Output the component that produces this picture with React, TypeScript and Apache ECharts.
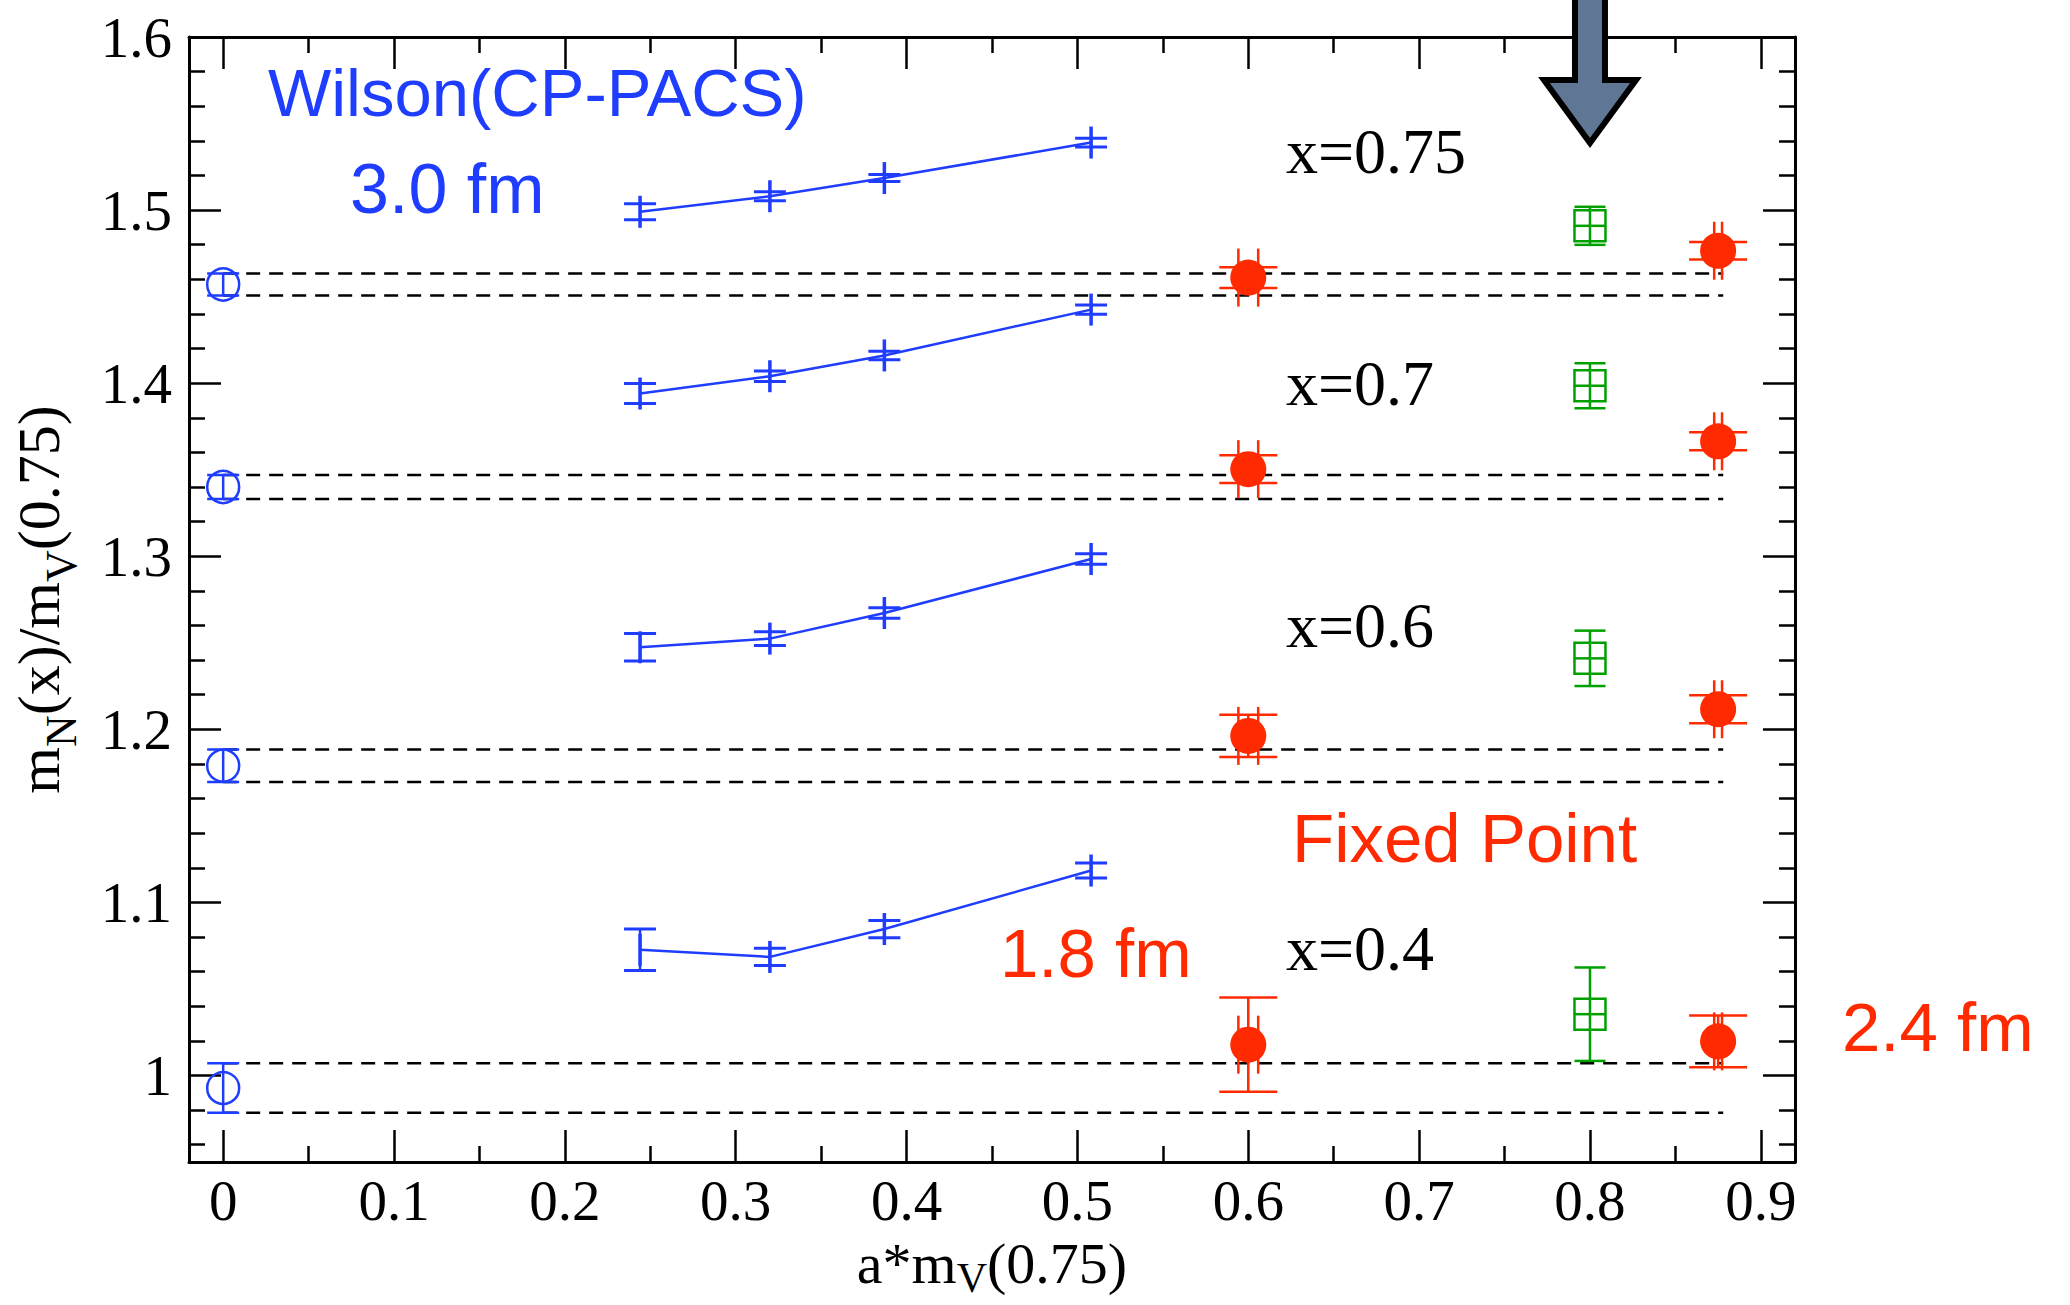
import React, { useEffect, useRef } from "react";
import * as echarts from "echarts";

// ---------------- data ----------------
const xTickLabels = [0, 0.1, 0.2, 0.3, 0.4, 0.5, 0.6, 0.7, 0.8, 0.9];
const xMinorTicks = [0.05, 0.15, 0.25, 0.35, 0.45, 0.55, 0.65, 0.75, 0.85];
const yTickLabels = [1.0, 1.1, 1.2, 1.3, 1.4, 1.5, 1.6];
const yMinorTicks = [
  0.96, 0.98, 1.02, 1.04, 1.06, 1.08, 1.12, 1.14, 1.16, 1.18, 1.22, 1.24, 1.26,
  1.28, 1.32, 1.34, 1.36, 1.38, 1.42, 1.44, 1.46, 1.48, 1.52, 1.54, 1.56, 1.58,
];

const groupNames = ["x=0.75", "x=0.7", "x=0.6", "x=0.4"];

// Wilson (CP-PACS) points
const wilsonX = [0.244, 0.32, 0.387, 0.508];
const wilsonY075 = [1.499, 1.508, 1.5185, 1.539];
const wilsonErr075 = [0.0046, 0.0026, 0.002, 0.0025];
const wilsonY070 = [1.394, 1.404, 1.416, 1.4425];
const wilsonErr070 = [0.0058, 0.003, 0.0025, 0.0027];
const wilsonY060 = [1.2474, 1.2524, 1.2672, 1.2984];
const wilsonErr060 = [0.008, 0.004, 0.003, 0.003];
const wilsonY040 = [1.0726, 1.0685, 1.0846, 1.1184];
const wilsonErr040 = [0.012, 0.005, 0.005, 0.0043];

// continuum limit (open circles at a*mV = 0) and their error bands
const contX = [0, 0, 0, 0];
const contY = [1.457, 1.34, 1.179, 0.9927];
const contErr = [0.0064, 0.007, 0.0094, 0.0143];
const bandX = [0, 0.878];

// Fixed Point action (red)
const fpX = [0.6, 0.875];
const fpXErr = [0.0058, 0.0023];
const fpY075 = [1.461, 1.4765];
const fpErr075 = [0.006, 0.005];
const fpY070 = [1.3503, 1.3664];
const fpErr070 = [0.008, 0.0052];
const fpY060 = [1.1962, 1.2116];
const fpErr060 = [0.0122, 0.0081];
const fpY040 = [1.0178, 1.0197];
const fpErr040 = [0.0272, 0.015];

// green open squares
const greenX = [0.8, 0.8, 0.8, 0.8];
const greenXErr = [0.009, 0.009, 0.009, 0.009];
const greenY = [1.4909, 1.3985, 1.241, 1.0354];
const greenErr = [0.011, 0.013, 0.016, 0.027];

// arrow pointing at a*mV = 0.8
const arrowAt = [0.8, 1.6];

const annotationTexts = [
  "Wilson(CP-PACS)",
  "3.0 fm",
  "Fixed Point",
  "1.8 fm",
  "2.4 fm",
];

// ---------------- styles ----------------
const BLUE = "#1f3dff";
const RED = "#ff2a00";
const GREEN = "#00a000";
const ARROW_FILL = "#5f7694";
const SERIF = "'Liberation Serif', 'Times New Roman', serif";
const SANS = "'Liberation Sans', Arial, sans-serif";

const wilsonGroups = [
  { y: wilsonY075, e: wilsonErr075 },
  { y: wilsonY070, e: wilsonErr070 },
  { y: wilsonY060, e: wilsonErr060 },
  { y: wilsonY040, e: wilsonErr040 },
];
const fpGroups = [
  { y: fpY075, e: fpErr075 },
  { y: fpY070, e: fpErr070 },
  { y: fpY060, e: fpErr060 },
  { y: fpY040, e: fpErr040 },
];

function ln(x1: number, y1: number, x2: number, y2: number, color: string, w: number) {
  return {
    type: "line",
    shape: { x1, y1, x2, y2 },
    style: { stroke: color, lineWidth: w, fill: null },
  };
}

function renderWilson(_p: any, api: any) {
  const x = api.value(0), y = api.value(1), e = api.value(2);
  const c = api.coord([x, y]);
  const t = api.coord([x, y + e]);
  const b = api.coord([x, y - e]);
  const m = 16, cw = 16;
  return {
    type: "group",
    children: [
      ln(c[0], t[1], c[0], b[1], BLUE, 2.5),
      ln(c[0], c[1] - m, c[0], c[1] + m, BLUE, 3.5),
      ln(c[0] - cw, t[1], c[0] + cw, t[1], BLUE, 3),
      ln(c[0] - cw, b[1], c[0] + cw, b[1], BLUE, 3),
    ],
  };
}

function renderCont(_p: any, api: any) {
  const x = api.value(0), y = api.value(1), e = api.value(2);
  const c = api.coord([x, y]);
  const t = api.coord([x, y + e]);
  const b = api.coord([x, y - e]);
  const cw = 16;
  return {
    type: "group",
    children: [
      ln(c[0], t[1], c[0], b[1], BLUE, 2.5),
      ln(c[0] - cw, t[1], c[0] + cw, t[1], BLUE, 2.5),
      ln(c[0] - cw, b[1], c[0] + cw, b[1], BLUE, 2.5),
      {
        type: "circle",
        shape: { cx: c[0], cy: c[1], r: 16 },
        style: { stroke: BLUE, lineWidth: 2.5, fill: null },
      },
    ],
  };
}

function renderFP(_p: any, api: any) {
  const x = api.value(0), y = api.value(1), e = api.value(2), xe = api.value(3);
  const c = api.coord([x, y]);
  const t = api.coord([x, y + e]);
  const b = api.coord([x, y - e]);
  const l = api.coord([x - xe, y]);
  const r = api.coord([x + xe, y]);
  const h = 29;
  return {
    type: "group",
    children: [
      ln(c[0], t[1], c[0], b[1], RED, 2.5),
      ln(c[0] - h, t[1], c[0] + h, t[1], RED, 2.5),
      ln(c[0] - h, b[1], c[0] + h, b[1], RED, 2.5),
      ln(l[0], c[1], r[0], c[1], RED, 2.5),
      ln(l[0], c[1] - h, l[0], c[1] + h, RED, 2.5),
      ln(r[0], c[1] - h, r[0], c[1] + h, RED, 2.5),
      {
        type: "circle",
        shape: { cx: c[0], cy: c[1], r: 18 },
        style: { fill: RED, stroke: null },
      },
    ],
  };
}

function renderGreen(_p: any, api: any) {
  const x = api.value(0), y = api.value(1), e = api.value(2), xe = api.value(3);
  const c = api.coord([x, y]);
  const t = api.coord([x, y + e]);
  const b = api.coord([x, y - e]);
  const l = api.coord([x - xe, y]);
  const r = api.coord([x + xe, y]);
  const s = 15.5;
  return {
    type: "group",
    children: [
      ln(c[0], t[1], c[0], b[1], GREEN, 2.5),
      ln(c[0] - s, t[1], c[0] + s, t[1], GREEN, 2.5),
      ln(c[0] - s, b[1], c[0] + s, b[1], GREEN, 2.5),
      ln(l[0], c[1], r[0], c[1], GREEN, 2.5),
      {
        type: "rect",
        shape: { x: c[0] - s, y: c[1] - s, width: 2 * s, height: 2 * s },
        style: { stroke: GREEN, lineWidth: 2.5, fill: null },
      },
    ],
  };
}

function renderArrow(_p: any, api: any) {
  const c = api.coord([api.value(0), api.value(1)]);
  const cx = c[0], cy = c[1];
  const pts = [
    [cx - 15, -20],
    [cx + 15, -20],
    [cx + 15, cy + 43],
    [cx + 46, cy + 43],
    [cx, cy + 106],
    [cx - 46, cy + 43],
    [cx - 15, cy + 43],
  ];
  return {
    type: "polygon",
    shape: { points: pts },
    style: { fill: ARROW_FILL, stroke: "#000", lineWidth: 6, lineJoin: "miter" },
  };
}

const fmt = (v: number) => String(Math.round(v * 100) / 100);

function xAxisDef(position: string, ticks: number[], len: number, extra: any = {}) {
  return {
    type: "value",
    min: -0.02,
    max: 0.92,
    position,
    splitLine: { show: false },
    axisLine: { show: false, onZero: false },
    axisTick: {
      show: true,
      inside: true,
      length: len,
      customValues: ticks,
      lineStyle: { color: "#000", width: 2.5 },
    },
    axisLabel: { show: false },
    ...extra,
  };
}
function yAxisDef(position: string, ticks: number[], len: number, extra: any = {}) {
  return {
    type: "value",
    min: 0.95,
    max: 1.6,
    position,
    splitLine: { show: false },
    axisLine: { show: false, onZero: false },
    axisTick: {
      show: true,
      inside: true,
      length: len,
      customValues: ticks,
      lineStyle: { color: "#000", width: 2.5 },
    },
    axisLabel: { show: false },
    ...extra,
  };
}

const frameLine = { show: true, onZero: false, lineStyle: { color: "#000", width: 3 } };

function buildOption() {
  const series: any[] = [];

  // dashed bands
  contY.forEach((v, i) => {
    [v + contErr[i], v - contErr[i]].forEach((yy) => {
      series.push({
        type: "line",
        data: [
          [bandX[0], yy],
          [bandX[1], yy],
        ],
        symbol: "none",
        lineStyle: { color: "#000", width: 2.5, type: [14, 9] },
        silent: true,
        z: 1,
      });
    });
  });

  // Wilson lines and points
  wilsonGroups.forEach((g, gi) => {
    series.push({
      type: "line",
      name: "Wilson " + groupNames[gi],
      data: wilsonX.map((x, i) => [x, g.y[i]]),
      symbol: "none",
      lineStyle: { color: BLUE, width: 2.5 },
      z: 2,
    });
    series.push({
      type: "custom",
      renderItem: renderWilson,
      data: wilsonX.map((x, i) => [x, g.y[i], g.e[i]]),
      encode: { x: 0, y: 1 },
      z: 3,
    });
  });

  series.push({
    type: "custom",
    renderItem: renderCont,
    data: contX.map((x, i) => [x, contY[i], contErr[i]]),
    encode: { x: 0, y: 1 },
    z: 3,
  });

  fpGroups.forEach((g) => {
    series.push({
      type: "custom",
      renderItem: renderFP,
      data: fpX.map((x, i) => [x, g.y[i], g.e[i], fpXErr[i]]),
      encode: { x: 0, y: 1 },
      z: 3,
    });
  });

  series.push({
    type: "custom",
    renderItem: renderGreen,
    data: greenX.map((x, i) => [x, greenY[i], greenErr[i], greenXErr[i]]),
    encode: { x: 0, y: 1 },
    z: 3,
  });

  series.push({
    type: "custom",
    renderItem: renderArrow,
    data: [arrowAt],
    encode: { x: 0, y: 1 },
    clip: false,
    z: 20,
  });

  const textEl = (
    text: string,
    left: number,
    baseline: number,
    size: number,
    family: string,
    color: string
  ) => ({
    type: "text",
    x: left,
    y: baseline - 0.34 * size,
    z: 30,
    style: {
      text,
      fontSize: size,
      fontFamily: family,
      fill: color,
      align: "left",
      verticalAlign: "middle",
      textAlign: "left",
      textVerticalAlign: "middle",
    },
  });

  const graphic = [
    textEl(annotationTexts[0], 268, 115, 67, SANS, BLUE),
    textEl(annotationTexts[1], 350, 213, 70, SANS, BLUE),
    textEl(groupNames[0], 1286, 173, 64, SERIF, "#000"),
    textEl(groupNames[1], 1286, 405, 64, SERIF, "#000"),
    textEl(groupNames[2], 1286, 647, 64, SERIF, "#000"),
    textEl(groupNames[3], 1286, 970, 64, SERIF, "#000"),
    textEl(annotationTexts[2], 1292, 862, 69, SANS, RED),
    textEl(annotationTexts[3], 1000, 977, 69, SANS, RED),
    textEl(annotationTexts[4], 1842, 1051, 69, SANS, RED),
  ];

  const labelStyle = {
    show: true,
    fontFamily: SERIF,
    fontSize: 57,
    color: "#000",
    formatter: fmt,
  };

  const richY = {
    n: { fontFamily: SERIF, fontSize: 60, color: "#000" },
    s: { fontFamily: SERIF, fontSize: 44, color: "#000", padding: [44, 0, 0, 0] },
  };
  const richX = {
    n: { fontFamily: SERIF, fontSize: 58, color: "#000" },
    s: { fontFamily: SERIF, fontSize: 42, color: "#000", padding: [30, 0, 0, 0] },
  };

  return {
    animation: false,
    backgroundColor: "#fff",
    grid: {
      left: 189,
      top: 37,
      width: 1606,
      height: 1125,
      containLabel: false,
      outerBoundsMode: "none",
    },
    xAxis: [
      xAxisDef("bottom", xTickLabels, 32, {
        axisLine: frameLine,
        axisLabel: { ...labelStyle, customValues: xTickLabels, margin: 10 },
        name: "{n|a*m}{s|V}{n|(0.75)}",
        nameLocation: "middle",
        nameGap: 65,
        nameMoveOverlap: false,
        nameTextStyle: { fontFamily: SERIF, fontSize: 58, color: "#000", rich: richX },
      }),
      xAxisDef("top", xTickLabels, 32, { axisLine: frameLine }),
      xAxisDef("bottom", xMinorTicks, 16),
      xAxisDef("top", xMinorTicks, 16),
    ],
    yAxis: [
      yAxisDef("left", yTickLabels, 32, {
        axisLine: frameLine,
        axisLabel: { ...labelStyle, customValues: yTickLabels, margin: 17 },
        name: "{n|m}{s|N}{n|(x)/m}{s|V}{n|(0.75)}",
        nameLocation: "middle",
        nameRotate: 90,
        nameGap: 106,
        nameMoveOverlap: false,
        nameTextStyle: { fontFamily: SERIF, fontSize: 60, color: "#000", rich: richY },
      }),
      yAxisDef("right", yTickLabels, 32, { axisLine: frameLine }),
      yAxisDef("left", yMinorTicks, 16),
      yAxisDef("right", yMinorTicks, 16),
    ],
    graphic,
    series,
  };
}

export default function App() {
  const ref = useRef<HTMLDivElement>(null);
  useEffect(() => {
    document.body.style.margin = "0";
    const chart = echarts.init(ref.current!, null, { renderer: "svg" });
    chart.setOption(buildOption() as any);
    return () => chart.dispose();
  }, []);
  return (
    <div
      ref={ref}
      style={{ position: "absolute", left: 0, top: 0, width: 2070, height: 1305, background: "#fff" }}
    />
  );
}
